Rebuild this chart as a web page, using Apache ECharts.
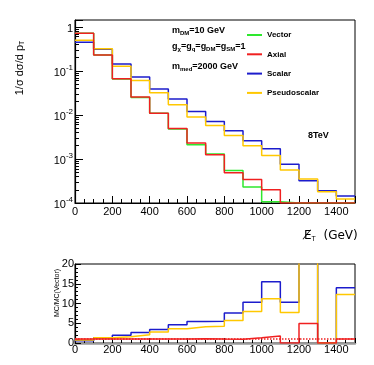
<!DOCTYPE html>
<html>
<head>
<meta charset="utf-8">
<script src="https://cdn.jsdelivr.net/npm/echarts@6/dist/echarts.min.js"></script>
<style>
  html, body { margin: 0; padding: 0; background: #fff; }
  #dom { width: 374px; height: 365px; }
</style>
</head>
<body>
<div id="dom"></div>
<script>
// bin low edges (GeV), last bin ends at 1500
const binEdges = [0, 100, 200, 300, 400, 500, 600, 700, 800, 900, 1000, 1100, 1200, 1300, 1400]
const xMax = 1500

// 1/sigma dsigma/dpT per bin
const vector = [0.72, 0.23, 0.066, 0.025, 0.011, 0.0048, 0.0021, 0.0013, 0.00055, 0.00023, 0.000107, 0.00007, 0.000012, 0, 0.00001]
const axial = [0.72, 0.23, 0.067, 0.0256, 0.011, 0.0049, 0.0023, 0.00125, 0.00049, 0.00034, 0.0002, 0, 0.00006, 0, 0.00001]
const scalar = [0.45, 0.31, 0.145, 0.073, 0.039, 0.023, 0.012, 0.0071, 0.0044, 0.0026, 0.0017, 0.00076, 0.00032, 0.00019, 0.000145]
const pseudoscalar = [0.5, 0.32, 0.128, 0.061, 0.032, 0.017, 0.009, 0.0058, 0.0034, 0.002, 0.0012, 0.00056, 0.00035, 0.00018, 0.000124]

// MC/MC(Vector) per bin
const ratioAxial = [1.0, 1.0, 1.0, 1.0, 1.0, 1.0, 1.1, 1.0, 0.95, 1.3, 1.8, 0, 4.95, 0, 1.0]
const ratioScalar = [0.6, 1.3, 1.95, 2.65, 3.4, 4.6, 5.45, 5.5, 7.6, 10.3, 15.5, 10.3, 28, 0, 14.0]
const ratioPseudoscalar = [0.75, 1.3, 1.6, 2.1, 2.8, 3.6, 4.1, 4.25, 5.7, 8.0, 11.2, 7.7, 30, 0, 12.3]

const xTicks = [0, 200, 400, 600, 800, 1000, 1200, 1400]
const yLogMin = 1e-4
const yLogMax = 1.44

const colors = {
  Vector: '#2ee82e',
  Axial: '#f02020',
  Scalar: '#1c1ccc',
  Pseudoscalar: '#ffc800'
}
const font = 'Liberation Sans, Arial, sans-serif'

function steps(vals, floor) {
  let pts = binEdges.map((e, i) => [e, floor ? Math.max(vals[i], floor) : vals[i]])
  pts.push([xMax, pts[pts.length - 1][1]])
  return pts
}

function histSeries(name, vals, grid) {
  return {
    name: name,
    type: 'line',
    step: 'end',
    xAxisIndex: grid,
    yAxisIndex: grid,
    showSymbol: false,
    symbol: 'none',
    clip: true,
    data: grid === 0 ? steps(vals, yLogMin) : steps(vals),
    lineStyle: { color: colors[name], width: 1.5 },
    itemStyle: { color: colors[name] },
    animation: false
  }
}

function xAxisCommon(grid, lineColor, lineWidth, margin) {
  return {
    type: 'value',
    gridIndex: grid,
    min: 0,
    max: xMax,
    interval: 200,
    axisLine: { show: true, onZero: false, lineStyle: { color: lineColor, width: lineWidth } },
    axisTick: { show: true, inside: true, length: grid === 0 ? 7 : 5, lineStyle: { color: '#000' } },
    minorTick: { show: true, splitNumber: 4, length: grid === 0 ? 4 : 3, lineStyle: { color: '#000' } },
    splitLine: { show: false },
    axisLabel: {
      margin: margin,
      fontSize: 11,
      fontFamily: font,
      color: '#000',
      showMaxLabel: false,
      formatter: v => (xTicks.indexOf(v) >= 0 ? String(v) : '')
    }
  }
}

const subRich = {
  b: { fontSize: 9, fontWeight: 'bold', fontFamily: font, lineHeight: 10, verticalAlign: 'top', color: '#000' },
  s: { fontSize: 6, fontWeight: 'bold', fontFamily: font, lineHeight: 6, verticalAlign: 'bottom', padding: [6, 0, 0, 0], color: '#000' }
}

let dom = echarts.init(document.getElementById('dom'), null, { renderer: 'canvas' })

let option = {
  backgroundColor: '#fff',
  animation: false,
  grid: [
    { left: 75, right: 19, top: 20, height: 183, show: true, borderColor: '#000', borderWidth: 1 },
    { left: 75, right: 19, top: 264, height: 79, show: true, borderColor: '#000', borderWidth: 1 }
  ],
  legend: {
    orient: 'vertical',
    left: 242,
    top: 26,
    itemWidth: 15,
    itemHeight: 2,
    itemGap: 11.3,
    icon: 'rect',
    data: ['Vector', 'Axial', 'Scalar', 'Pseudoscalar'],
    textStyle: { fontSize: 8, fontWeight: 'bold', fontFamily: font, color: '#000' }
  },
  xAxis: [
    xAxisCommon(0, '#000', 1.2, 3),
    xAxisCommon(1, '#999', 2.5, 1)
  ],
  yAxis: [
    {
      type: 'log',
      logBase: 10,
      gridIndex: 0,
      min: yLogMin,
      max: yLogMax,
      axisLine: { show: true, lineStyle: { color: '#000', width: 1.2 } },
      axisTick: { show: true, inside: true, length: 8, lineStyle: { color: '#000' } },
      minorTick: { show: true, splitNumber: 9, length: 4, lineStyle: { color: '#000' } },
      splitLine: { show: false },
      axisLabel: {
        margin: 2,
        color: '#000',
        formatter: v => {
          let p = Math.round(Math.log10(v))
          if (Math.abs(Math.log10(v) - p) > 0.01) return ''
          if (p === 0) return '{b|1}'
          return '{b|10}{s|' + p + '}'
        },
        rich: {
          b: { fontSize: 11, fontFamily: font, color: '#000', lineHeight: 14, verticalAlign: 'bottom' },
          s: { fontSize: 8, fontFamily: font, color: '#000', lineHeight: 9, verticalAlign: 'top' }
        }
      }
    },
    {
      type: 'value',
      gridIndex: 1,
      min: 0,
      max: 20,
      interval: 5,
      axisLine: { show: true, lineStyle: { color: '#000', width: 1.2 } },
      axisTick: { show: true, inside: true, length: 6, lineStyle: { color: '#000' } },
      minorTick: { show: true, splitNumber: 5, length: 3, lineStyle: { color: '#000' } },
      splitLine: { show: false },
      axisLabel: { margin: 1, fontSize: 11, fontFamily: font, color: '#000' }
    }
  ],
  series: [
    histSeries('Vector', vector, 0),
    histSeries('Scalar', scalar, 0),
    histSeries('Pseudoscalar', pseudoscalar, 0),
    histSeries('Axial', axial, 0),
    histSeries('Scalar', ratioScalar, 1),
    histSeries('Pseudoscalar', ratioPseudoscalar, 1),
    Object.assign(histSeries('Axial', ratioAxial, 1), {
      markLine: {
        silent: true,
        symbol: 'none',
        label: { show: false },
        lineStyle: { color: colors.Axial, type: 'dotted', width: 1.5 },
        data: [{ yAxis: 1 }]
      }
    })
  ],
  graphic: [
    {
      type: 'text', left: 172, top: 24,
      style: { text: '{b|m}{s|DM}{b|=10 GeV}', rich: subRich }
    },
    {
      type: 'text', left: 172, top: 40,
      style: { text: '{b|g}{s|χ}{b|=g}{s|q}{b|=g}{s|DM}{b|=g}{s|SM}{b|=1}', rich: subRich }
    },
    {
      type: 'text', left: 172, top: 60,
      style: { text: '{b|m}{s|med}{b|=2000 GeV}', rich: subRich }
    },
    {
      type: 'text', left: 308, top: 131,
      style: { text: '8TeV', fontSize: 9, fontWeight: 'bold', fontFamily: font, fill: '#000' }
    },
    {
      type: 'text', x: 20, y: 68, rotation: Math.PI / 2,
      style: {
        text: '{n|1/σ dσ/d p}{t|T}',
        align: 'center',
        verticalAlign: 'middle',
        rich: {
          n: { fontSize: 11, fontFamily: font, fill: '#000', lineHeight: 12, verticalAlign: 'top' },
          t: { fontSize: 7, fontFamily: font, fill: '#000', lineHeight: 7, verticalAlign: 'bottom', padding: [7, 0, 0, 0] }
        }
      }
    },
    {
      type: 'text', left: 304, top: 228,
      style: {
        text: '{n|E\u0338}{t|T}{n|  (GeV)}',
        rich: {
          n: { fontSize: 12, fontFamily: 'DejaVu Sans, Liberation Sans', fill: '#000', lineHeight: 13, verticalAlign: 'top' },
          t: { fontSize: 7, fontFamily: font, fill: '#000', lineHeight: 7, verticalAlign: 'bottom', padding: [8, 0, 0, 0] }
        }
      }
    },
    {
      type: 'text', x: 57, y: 293, rotation: Math.PI / 2,
      style: { text: 'MC/MC(Vector)', fontSize: 7, fontFamily: font, fill: '#000', align: 'center', verticalAlign: 'middle' }
    }
  ]
}

dom.setOption(option)
window.addEventListener('resize', () => dom.resize())
</script>
</body>
</html>
